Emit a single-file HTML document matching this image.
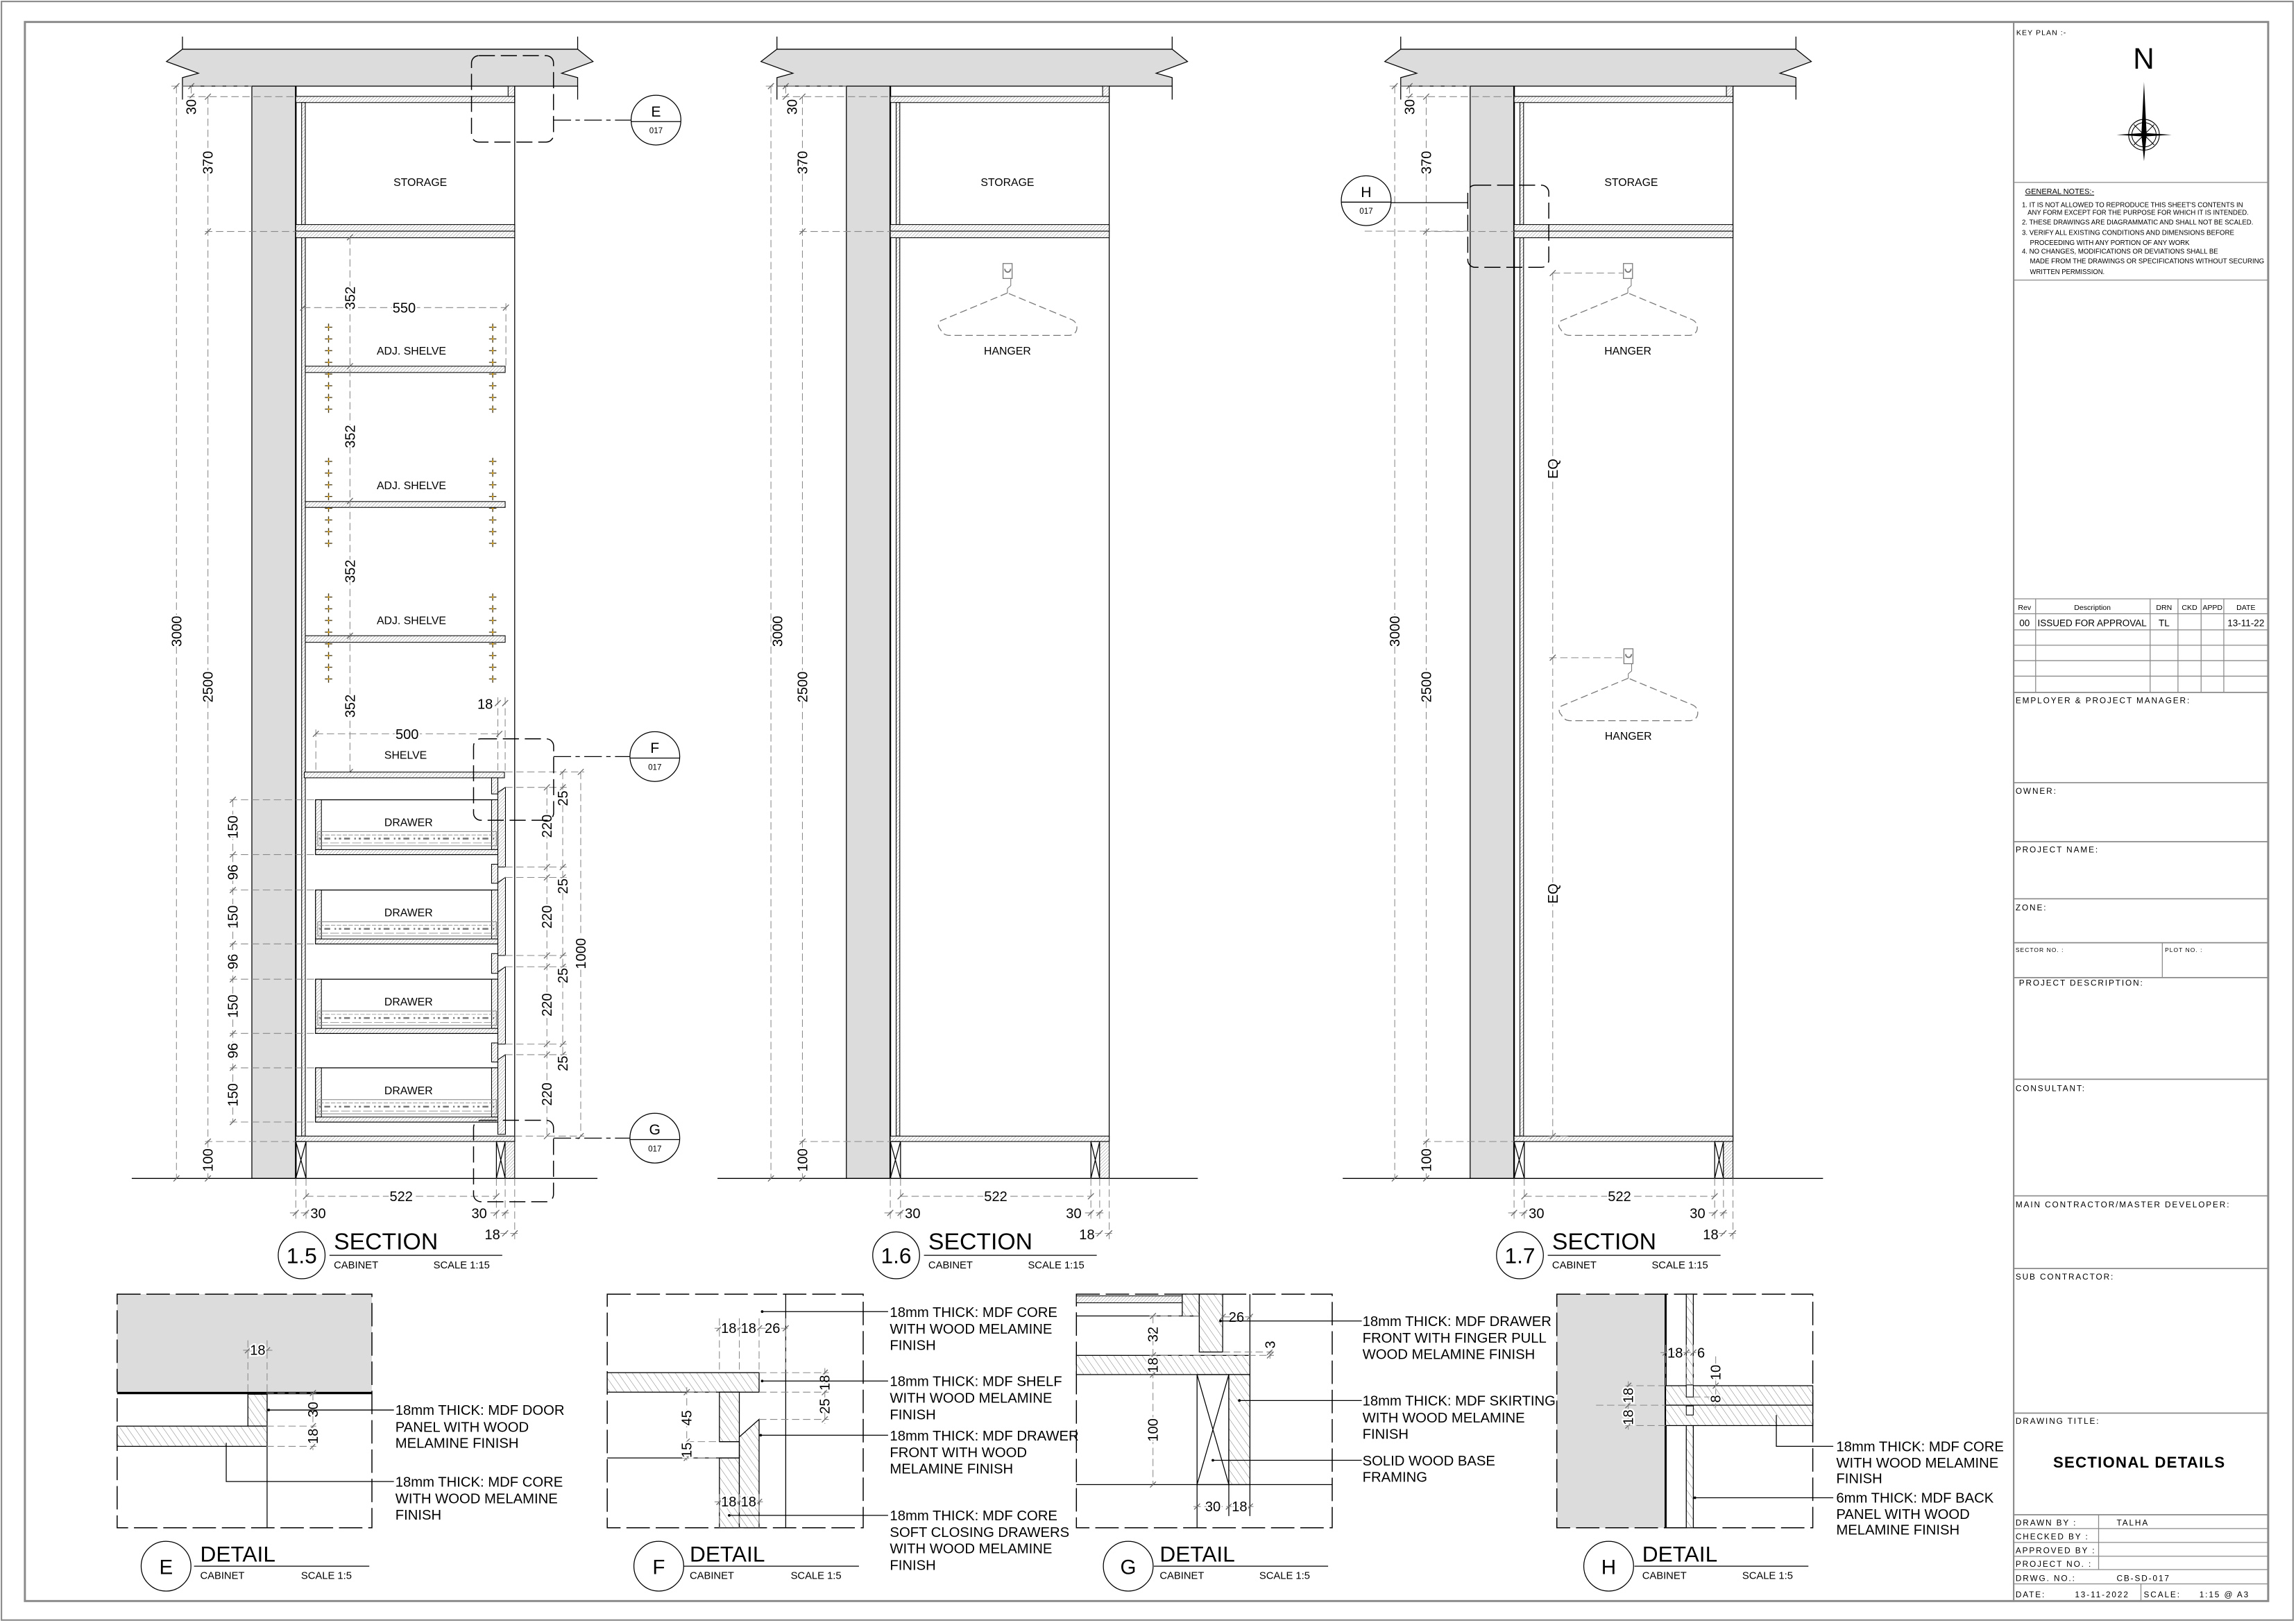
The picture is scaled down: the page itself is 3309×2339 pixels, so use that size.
<!DOCTYPE html>
<html><head><meta charset="utf-8">
<style>
html,body{margin:0;padding:0;background:#fff;}
svg{display:block;}
text{font-family:"Liberation Sans",Arial,sans-serif;fill:#000;}
.k{stroke:#000;fill:none;stroke-width:.6}
.kt{stroke:#000;fill:none;stroke-width:.9}
.d{stroke:#8a8a8a;fill:none;stroke-width:.5;stroke-dasharray:5 2.5}
.tk{stroke:#666;fill:none;stroke-width:.6}
.h{fill:url(#hat);stroke:#000;stroke-width:.5}
.hb{fill:url(#hatb);stroke:#000;stroke-width:.6}
.g{fill:#dcdcdc;stroke:#000;stroke-width:.6}
.bx{fill:none;stroke:#000;stroke-width:.7;stroke-dasharray:11 4}
.fr{fill:none;stroke:#000;stroke-width:.7;stroke-dasharray:16 4}
.dt{font-size:9.5px;paint-order:stroke;stroke:#fff;stroke-width:2.2px}
.lb{font-size:7.5px}
.nt{font-size:9.6px}
.tb{font-size:5.6px;letter-spacing:.9px}
.hg{fill:none;stroke:#777;stroke-width:.6;stroke-dasharray:5 2.5}
</style></head>
<body>
<svg width="3309" height="2339" viewBox="0 0 1568 1108" preserveAspectRatio="none" xmlns="http://www.w3.org/2000/svg">
<defs>
<pattern id="hat" patternUnits="userSpaceOnUse" width="1.6" height="1.6" patternTransform="rotate(45)">
<rect width="1.6" height="1.6" fill="#fff"/><line x1="0" y1="0" x2="0" y2="1.6" stroke="#888" stroke-width=".45"/></pattern>
<pattern id="hatb" patternUnits="userSpaceOnUse" width="4" height="4" patternTransform="rotate(-35)">
<rect width="4" height="4" fill="#fff"/><line x1="0" y1="0" x2="0" y2="4" stroke="#666" stroke-width=".4"/></pattern>
<pattern id="pl1" patternUnits="userSpaceOnUse" x="220.9" y="219.4" width="112.1" height="7.99">
<path d="M1,4H6M3.5,1.5V6.5" stroke="#3a2a00" stroke-width=".6"/><circle cx="3.5" cy="4" r=".6" fill="#e0a000"/></pattern>
<pattern id="pl2" patternUnits="userSpaceOnUse" x="220.9" y="311" width="112.1" height="7.99">
<path d="M1,4H6M3.5,1.5V6.5" stroke="#3a2a00" stroke-width=".6"/><circle cx="3.5" cy="4" r=".6" fill="#e0a000"/></pattern>
<pattern id="pl3" patternUnits="userSpaceOnUse" x="220.9" y="403.6" width="112.1" height="7.99">
<path d="M1,4H6M3.5,1.5V6.5" stroke="#3a2a00" stroke-width=".6"/><circle cx="3.5" cy="4" r=".6" fill="#e0a000"/></pattern>
</defs>
<rect x="0" y="0" width="1568" height="1108" fill="#fff"/>
<!-- borders -->
<rect x="1" y="1" width="1565" height="1105" fill="none" stroke="#8a8a8a" stroke-width="1"/>
<rect x="17" y="15" width="1532" height="1078" fill="none" stroke="#8a8a8a" stroke-width="1.4"/>

<!-- ===================== SECTION 1.5 ===================== -->
<g id="s15">
<path class="g" d="M124.6,33.6H394.5L405,42L383.6,50L394.5,53V58.8H124.6V53L135.5,50L113.7,42Z"/>
<path class="k" d="M124.6,25V33.6M124.6,58.8V68M394.5,25V33.6M394.5,58.8V68"/>
<rect class="g" x="172" y="58.8" width="30" height="745.7"/>
<line x1="202" y1="58.8" x2="202" y2="804.5" stroke="#000" stroke-width="1.1"/>
<rect class="h" x="202" y="65.8" width="149.5" height="4.2"/>
<rect class="h" x="347" y="58.8" width="4.5" height="7"/>
<line class="k" x1="351.5" y1="58.8" x2="351.5" y2="779.3"/>
<rect class="h" x="206" y="70" width="2.5" height="83.3"/>
<rect class="h" x="206" y="162.3" width="2.5" height="613.3"/>
<rect class="h" x="202" y="153.3" width="149.5" height="4.5"/>
<rect class="h" x="202" y="157.8" width="149.5" height="4.5"/>
<text x="287" y="127" class="lb" text-anchor="middle">STORAGE</text>
<rect class="h" x="202" y="775.6" width="149.5" height="3.7"/>
<path class="k" d="M202,779.3h7v25.2h-7zM202,779.3l7,25.2M209,779.3l-7,25.2M339,779.3h6v25.2h-6zM339,779.3l6,25.2M345,779.3l-6,25.2"/>
<rect class="h" x="345" y="779.3" width="6.5" height="25.2"/>
<line class="k" x1="90" y1="804.5" x2="408" y2="804.5"/>
<path class="d" d="M120.5,58.8V804.5M130.6,58.8V66M142,66V804.5M117,58.8H172M128,66H202M140,158H202M140,779.3H202M209,804.5V832M202,804.5V832M339,804.5V832M345,804.5V832M351.5,804.5V846M209,816.7H339M198,828H213M335,828H349M341,842H355"/>
<path class="tk" d="M118.5,60.8l4,-4M118.5,806.5l4,-4M128.6,60.8l4,-4M128.6,68l4,-4M140,68l4,-4M140,160l4,-4M140,781.3l4,-4M140,806.5l4,-4M207,818.7l4,-4M337,818.7l4,-4M200,830l4,-4M207,830l4,-4M337,830l4,-4M343,830l4,-4M343,844l4,-4M349.5,844l4,-4"/>
<text class="dt" text-anchor="middle" transform="translate(123.8,431) rotate(-90)">3000</text>
<text class="dt" text-anchor="middle" transform="translate(145.3,469) rotate(-90)">2500</text>
<text class="dt" text-anchor="middle" transform="translate(133.9,73) rotate(-90)">30</text>
<text class="dt" text-anchor="middle" transform="translate(145.3,111) rotate(-90)">370</text>
<text class="dt" text-anchor="middle" transform="translate(145.3,792) rotate(-90)">100</text>
<text class="dt" text-anchor="middle" x="274" y="820">522</text>
<text class="dt" x="212" y="831.5">30</text>
<text class="dt" x="322" y="831.5">30</text>
<text class="dt" x="331" y="846">18</text>
<circle cx="206" cy="857" r="16" fill="none" stroke="#000" stroke-width=".6"/>
<text x="206" y="862.5" font-size="15" text-anchor="middle">1.5</text>
<text x="228" y="853" font-size="16">SECTION</text>
<line class="k" x1="225" y1="857" x2="343" y2="857"/>
<text x="228" y="866" font-size="7">CABINET</text>
<text x="296" y="866" font-size="7">SCALE  1:15</text>

<!-- specific -->
<rect fill="url(#pl1)" x="220.9" y="219.4" width="119" height="64"/>
<rect fill="url(#pl2)" x="220.9" y="311" width="119" height="64"/>
<rect fill="url(#pl3)" x="220.9" y="403.6" width="119" height="64"/>
<rect class="h" x="208.5" y="250" width="136.5" height="4.3"/>
<rect class="h" x="208.5" y="342.4" width="136.5" height="4"/>
<rect class="h" x="208.5" y="434" width="136.5" height="4.5"/>
<text x="281" y="242" class="lb" text-anchor="middle">ADJ. SHELVE</text>
<text x="281" y="334" class="lb" text-anchor="middle">ADJ. SHELVE</text>
<text x="281" y="426" class="lb" text-anchor="middle">ADJ. SHELVE</text>
<path class="d" d="M207,210H345.5M345.5,207V250M239,162V527M340,476V527M345,476V527M215.7,501H341M215.7,498V527"/>
<path class="tk" d="M205,212l4,-4M343.5,212l4,-4M237,164l4,-4M237,252l4,-4M237,344l4,-4M237,436l4,-4M237,529l4,-4M213.7,503l4,-4M339,503l4,-4M338,482l4,-4M343,482l4,-4"/>
<text class="dt" text-anchor="middle" x="276" y="213.5">550</text>
<text class="dt" text-anchor="middle" transform="translate(242.3,203.5) rotate(-90)">352</text>
<text class="dt" text-anchor="middle" transform="translate(242.3,298) rotate(-90)">352</text>
<text class="dt" text-anchor="middle" transform="translate(242.3,390) rotate(-90)">352</text>
<text class="dt" text-anchor="middle" transform="translate(242.3,482) rotate(-90)">352</text>
<text class="dt" x="326" y="484">18</text>
<text class="dt" text-anchor="middle" x="278" y="504.5">500</text>
<text x="277" y="518" class="lb" text-anchor="middle">SHELVE</text>
<rect class="h" x="207.8" y="527.1" width="136.7" height="3.9"/>
<!-- drawers -->
<g id="dr1">
<rect class="k" x="215.5" y="546" width="124.5" height="37.4"/>
<rect class="h" x="215.5" y="546" width="4" height="34"/>
<rect class="h" x="335.7" y="546" width="4.3" height="34"/>
<rect class="h" x="215.5" y="580" width="124.5" height="3.4"/>
<rect x="217" y="567.7" width="122" height="9.7" fill="none" stroke="#888" stroke-width=".5"/>
<line x1="218" y1="570" x2="338" y2="570" stroke="#888" stroke-width=".4" stroke-dasharray="3 1"/>
<line x1="218" y1="572.5" x2="338" y2="572.5" stroke="#777" stroke-width="1.2" stroke-dasharray="1.5 2 4 3 1 2"/>
<line x1="218" y1="575.5" x2="338" y2="575.5" stroke="#888" stroke-width=".4" stroke-dasharray="6 1.5"/>
<text x="279" y="564" class="lb" text-anchor="middle">DRAWER</text>
</g>
<g transform="translate(0,61.6)">
<rect class="k" x="215.5" y="546" width="124.5" height="36.8"/>
<rect class="h" x="215.5" y="546" width="4" height="33.4"/>
<rect class="h" x="335.7" y="546" width="4.3" height="33.4"/>
<rect class="h" x="215.5" y="579.4" width="124.5" height="3.4"/>
<rect x="217" y="567.7" width="122" height="9.7" fill="none" stroke="#888" stroke-width=".5"/>
<line x1="218" y1="570" x2="338" y2="570" stroke="#888" stroke-width=".4" stroke-dasharray="3 1"/>
<line x1="218" y1="572.5" x2="338" y2="572.5" stroke="#777" stroke-width="1.2" stroke-dasharray="1.5 2 4 3 1 2"/>
<line x1="218" y1="575.5" x2="338" y2="575.5" stroke="#888" stroke-width=".4" stroke-dasharray="6 1.5"/>
<text x="279" y="564" class="lb" text-anchor="middle">DRAWER</text>
</g>
<g transform="translate(0,122.5)">
<rect class="k" x="215.5" y="546" width="124.5" height="37"/>
<rect class="h" x="215.5" y="546" width="4" height="33.6"/>
<rect class="h" x="335.7" y="546" width="4.3" height="33.6"/>
<rect class="h" x="215.5" y="579.6" width="124.5" height="3.4"/>
<rect x="217" y="567.7" width="122" height="9.7" fill="none" stroke="#888" stroke-width=".5"/>
<line x1="218" y1="570" x2="338" y2="570" stroke="#888" stroke-width=".4" stroke-dasharray="3 1"/>
<line x1="218" y1="572.5" x2="338" y2="572.5" stroke="#777" stroke-width="1.2" stroke-dasharray="1.5 2 4 3 1 2"/>
<line x1="218" y1="575.5" x2="338" y2="575.5" stroke="#888" stroke-width=".4" stroke-dasharray="6 1.5"/>
<text x="279" y="564" class="lb" text-anchor="middle">DRAWER</text>
</g>
<g transform="translate(0,183)">
<rect class="k" x="215.5" y="546" width="124.5" height="37"/>
<rect class="h" x="215.5" y="546" width="4" height="33.6"/>
<rect class="h" x="335.7" y="546" width="4.3" height="33.6"/>
<rect class="h" x="215.5" y="579.6" width="124.5" height="3.4"/>
<rect x="217" y="567.7" width="122" height="9.7" fill="none" stroke="#888" stroke-width=".5"/>
<line x1="218" y1="570" x2="338" y2="570" stroke="#888" stroke-width=".4" stroke-dasharray="3 1"/>
<line x1="218" y1="572.5" x2="338" y2="572.5" stroke="#777" stroke-width="1.2" stroke-dasharray="1.5 2 4 3 1 2"/>
<line x1="218" y1="575.5" x2="338" y2="575.5" stroke="#888" stroke-width=".4" stroke-dasharray="6 1.5"/>
<text x="279" y="564" class="lb" text-anchor="middle">DRAWER</text>
</g>
<!-- fronts -->
<path class="h" d="M340,541L345.2,537.5V591.9H340Z"/>
<path class="h" d="M340,602.5L345.2,599V652.3H340Z"/>
<path class="h" d="M340,663.5L345.2,660V712.8H340Z"/>
<path class="h" d="M340,723.5L345.2,720V774.4H340Z"/>
<rect class="h" x="335.7" y="531" width="4.3" height="11"/>
<rect class="h" x="335.7" y="590" width="4.3" height="13"/>
<rect class="h" x="335.7" y="651" width="4.3" height="13.5"/>
<rect class="h" x="335.7" y="712" width="4.3" height="13"/>
<!-- left drawer dims -->
<path class="d" d="M159,546V766M157,546H215M157,583.4H215M157,607.6H215M157,644.4H215M157,668.5H215M157,705.5H215M157,729H215M157,766H215"/>
<path class="tk" d="M157,548l4,-4M157,585.4l4,-4M157,609.6l4,-4M157,646.4l4,-4M157,670.5l4,-4M157,707.5l4,-4M157,731l4,-4M157,768l4,-4"/>
<text class="dt" text-anchor="middle" transform="translate(162.3,564.7) rotate(-90)">150</text>
<text class="dt" text-anchor="middle" transform="translate(162.3,595.5) rotate(-90)">96</text>
<text class="dt" text-anchor="middle" transform="translate(162.3,626) rotate(-90)">150</text>
<text class="dt" text-anchor="middle" transform="translate(162.3,656.5) rotate(-90)">96</text>
<text class="dt" text-anchor="middle" transform="translate(162.3,687) rotate(-90)">150</text>
<text class="dt" text-anchor="middle" transform="translate(162.3,717.3) rotate(-90)">96</text>
<text class="dt" text-anchor="middle" transform="translate(162.3,747.5) rotate(-90)">150</text>
<!-- right dims -->
<path class="d" d="M373.5,537.5V775.6M384.3,527V722M396.6,527V775.6M345,527H399M345,537.5H387M345,591.9H387M345,599H387M345,652.3H387M345,660H387M345,712.8H387M345,720H387M351.5,775.6H399"/>
<path class="tk" d="M371.5,539.5l4,-4M371.5,593.9l4,-4M371.5,601l4,-4M371.5,654.3l4,-4M371.5,662l4,-4M371.5,714.8l4,-4M371.5,722l4,-4M371.5,777.6l4,-4M382.3,529l4,-4M382.3,539.5l4,-4M382.3,593.9l4,-4M382.3,601l4,-4M382.3,654.3l4,-4M382.3,662l4,-4M382.3,714.8l4,-4M382.3,722l4,-4M394.6,529l4,-4M394.6,777.6l4,-4"/>
<text class="dt" text-anchor="middle" transform="translate(376.8,564) rotate(-90)">220</text>
<text class="dt" text-anchor="middle" transform="translate(376.8,626) rotate(-90)">220</text>
<text class="dt" text-anchor="middle" transform="translate(376.8,686) rotate(-90)">220</text>
<text class="dt" text-anchor="middle" transform="translate(376.8,747) rotate(-90)">220</text>
<text class="dt" text-anchor="middle" transform="translate(387.6,545) rotate(-90)">25</text>
<text class="dt" text-anchor="middle" transform="translate(387.6,605) rotate(-90)">25</text>
<text class="dt" text-anchor="middle" transform="translate(387.6,666) rotate(-90)">25</text>
<text class="dt" text-anchor="middle" transform="translate(387.6,726) rotate(-90)">25</text>
<text class="dt" text-anchor="middle" transform="translate(399.9,651) rotate(-90)">1000</text>
<!-- detail boxes/bubbles -->
<rect class="bx" x="322" y="38" width="56" height="59" rx="5"/>
<path d="M378,82H431" stroke="#000" stroke-width=".6" stroke-dasharray="12 3 3 3"/>
<circle cx="448" cy="82" r="17" fill="#fff" stroke="#000" stroke-width=".6"/>
<line class="k" x1="431" y1="83" x2="465" y2="83"/>
<text x="448" y="79.5" font-size="10" text-anchor="middle">E</text>
<text x="448" y="91" font-size="5.5" text-anchor="middle">017</text>
<rect class="bx" x="323.4" y="504.4" width="54.7" height="55.6" rx="5"/>
<path d="M378,516.5H430" stroke="#000" stroke-width=".6" stroke-dasharray="12 3 3 3"/>
<circle cx="447.2" cy="516.5" r="17" fill="#fff" stroke="#000" stroke-width=".6"/>
<line class="k" x1="430.2" y1="517.5" x2="464.2" y2="517.5"/>
<text x="447.2" y="514" font-size="10" text-anchor="middle">F</text>
<text x="447.2" y="525.5" font-size="5.5" text-anchor="middle">017</text>
<rect class="bx" x="323.4" y="764.8" width="54.6" height="55.6" rx="5"/>
<path d="M378,777H430" stroke="#000" stroke-width=".6" stroke-dasharray="12 3 3 3"/>
<circle cx="447.2" cy="777" r="17" fill="#fff" stroke="#000" stroke-width=".6"/>
<line class="k" x1="430.2" y1="778" x2="464.2" y2="778"/>
<text x="447.2" y="774.5" font-size="10" text-anchor="middle">G</text>
<text x="447.2" y="786" font-size="5.5" text-anchor="middle">017</text>
</g>

<!-- ===================== SECTION 1.6 ===================== -->
<g transform="translate(406,0)">
<path class="g" d="M124.6,33.6H394.5L405,42L383.6,50L394.5,53V58.8H124.6V53L135.5,50L113.7,42Z"/>
<path class="k" d="M124.6,25V33.6M124.6,58.8V68M394.5,25V33.6M394.5,58.8V68"/>
<rect class="g" x="172" y="58.8" width="30" height="745.7"/>
<line x1="202" y1="58.8" x2="202" y2="804.5" stroke="#000" stroke-width="1.1"/>
<rect class="h" x="202" y="65.8" width="149.5" height="4.2"/>
<rect class="h" x="347" y="58.8" width="4.5" height="7"/>
<line class="k" x1="351.5" y1="58.8" x2="351.5" y2="779.3"/>
<rect class="h" x="206" y="70" width="2.5" height="83.3"/>
<rect class="h" x="206" y="162.3" width="2.5" height="613.3"/>
<rect class="h" x="202" y="153.3" width="149.5" height="4.5"/>
<rect class="h" x="202" y="157.8" width="149.5" height="4.5"/>
<text x="282" y="127" class="lb" text-anchor="middle">STORAGE</text>
<rect class="h" x="202" y="775.6" width="149.5" height="3.7"/>
<path class="k" d="M202,779.3h7v25.2h-7zM202,779.3l7,25.2M209,779.3l-7,25.2M339,779.3h6v25.2h-6zM339,779.3l6,25.2M345,779.3l-6,25.2"/>
<rect class="h" x="345" y="779.3" width="6.5" height="25.2"/>
<line class="k" x1="84" y1="804.5" x2="412" y2="804.5"/>
<path class="d" d="M120.5,58.8V804.5M130.6,58.8V66M142,66V804.5M117,58.8H172M128,66H202M140,158H202M140,779.3H202M209,804.5V832M202,804.5V832M339,804.5V832M345,804.5V832M351.5,804.5V846M209,816.7H339M198,828H213M335,828H349M341,842H355"/>
<path class="tk" d="M118.5,60.8l4,-4M118.5,806.5l4,-4M128.6,60.8l4,-4M128.6,68l4,-4M140,68l4,-4M140,160l4,-4M140,781.3l4,-4M140,806.5l4,-4M207,818.7l4,-4M337,818.7l4,-4M200,830l4,-4M207,830l4,-4M337,830l4,-4M343,830l4,-4M343,844l4,-4M349.5,844l4,-4"/>
<text class="dt" text-anchor="middle" transform="translate(128.3,431) rotate(-90)">3000</text>
<text class="dt" text-anchor="middle" transform="translate(145.3,469) rotate(-90)">2500</text>
<text class="dt" text-anchor="middle" transform="translate(138.3,73) rotate(-90)">30</text>
<text class="dt" text-anchor="middle" transform="translate(145.3,111) rotate(-90)">370</text>
<text class="dt" text-anchor="middle" transform="translate(145.3,792) rotate(-90)">100</text>
<text class="dt" text-anchor="middle" x="274" y="820">522</text>
<text class="dt" x="212" y="831.5">30</text>
<text class="dt" x="322" y="831.5">30</text>
<text class="dt" x="331" y="846">18</text>
<circle cx="206" cy="857" r="16" fill="none" stroke="#000" stroke-width=".6"/>
<text x="206" y="862.5" font-size="15" text-anchor="middle">1.6</text>
<text x="228" y="853" font-size="16">SECTION</text>
<line class="k" x1="225" y1="857" x2="343" y2="857"/>
<text x="228" y="866" font-size="7">CABINET</text>
<text x="296" y="866" font-size="7">SCALE  1:15</text>
<g transform="translate(282,200)">
<rect x="-3" y="-20.1" width="6.2" height="10.2" fill="none" stroke="#777" stroke-width=".6"/>
<path d="M-1.8,-16.5a2,2.3 0 0 0 4,0" fill="none" stroke="#777" stroke-width=".9"/>
<path d="M2.3,-10V-5L0,-3V0" fill="none" stroke="#777" stroke-width=".5"/>
<path class="hg" d="M0,0L-45.7,19Q-48.7,22 -45.7,25Q-43.7,29 -39.7,29H42.3Q48.3,28 47.3,22Q46.3,19 43.3,18Z"/>
<text x="0" y="42" class="lb" text-anchor="middle">HANGER</text>
</g>
</g>

<!-- ===================== SECTION 1.7 ===================== -->
<g transform="translate(832,0)">
<path class="g" d="M124.6,33.6H394.5L405,42L383.6,50L394.5,53V58.8H124.6V53L135.5,50L113.7,42Z"/>
<path class="k" d="M124.6,25V33.6M124.6,58.8V68M394.5,25V33.6M394.5,58.8V68"/>
<rect class="g" x="172" y="58.8" width="30" height="745.7"/>
<line x1="202" y1="58.8" x2="202" y2="804.5" stroke="#000" stroke-width="1.1"/>
<rect class="h" x="202" y="65.8" width="149.5" height="4.2"/>
<rect class="h" x="347" y="58.8" width="4.5" height="7"/>
<line class="k" x1="351.5" y1="58.8" x2="351.5" y2="779.3"/>
<rect class="h" x="206" y="70" width="2.5" height="83.3"/>
<rect class="h" x="206" y="162.3" width="2.5" height="613.3"/>
<rect class="h" x="202" y="153.3" width="149.5" height="4.5"/>
<rect class="h" x="202" y="157.8" width="149.5" height="4.5"/>
<text x="282" y="127" class="lb" text-anchor="middle">STORAGE</text>
<rect class="h" x="202" y="775.6" width="149.5" height="3.7"/>
<path class="k" d="M202,779.3h7v25.2h-7zM202,779.3l7,25.2M209,779.3l-7,25.2M339,779.3h6v25.2h-6zM339,779.3l6,25.2M345,779.3l-6,25.2"/>
<rect class="h" x="345" y="779.3" width="6.5" height="25.2"/>
<line class="k" x1="85" y1="804.5" x2="413" y2="804.5"/>
<path class="d" d="M120.5,58.8V804.5M130.6,58.8V66M142,66V804.5M117,58.8H172M128,66H202M140,158H202M140,779.3H202M209,804.5V832M202,804.5V832M339,804.5V832M345,804.5V832M351.5,804.5V846M209,816.7H339M198,828H213M335,828H349M341,842H355"/>
<path class="tk" d="M118.5,60.8l4,-4M118.5,806.5l4,-4M128.6,60.8l4,-4M128.6,68l4,-4M140,68l4,-4M140,160l4,-4M140,781.3l4,-4M140,806.5l4,-4M207,818.7l4,-4M337,818.7l4,-4M200,830l4,-4M207,830l4,-4M337,830l4,-4M343,830l4,-4M343,844l4,-4M349.5,844l4,-4"/>
<text class="dt" text-anchor="middle" transform="translate(123.8,431) rotate(-90)">3000</text>
<text class="dt" text-anchor="middle" transform="translate(145.3,469) rotate(-90)">2500</text>
<text class="dt" text-anchor="middle" transform="translate(133.9,73) rotate(-90)">30</text>
<text class="dt" text-anchor="middle" transform="translate(145.3,111) rotate(-90)">370</text>
<text class="dt" text-anchor="middle" transform="translate(145.3,792) rotate(-90)">100</text>
<text class="dt" text-anchor="middle" x="274" y="820">522</text>
<text class="dt" x="212" y="831.5">30</text>
<text class="dt" x="322" y="831.5">30</text>
<text class="dt" x="331" y="846">18</text>
<circle cx="206" cy="857" r="16" fill="none" stroke="#000" stroke-width=".6"/>
<text x="206" y="862.5" font-size="15" text-anchor="middle">1.7</text>
<text x="228" y="853" font-size="16">SECTION</text>
<line class="k" x1="225" y1="857" x2="343" y2="857"/>
<text x="228" y="866" font-size="7">CABINET</text>
<text x="296" y="866" font-size="7">SCALE  1:15</text>
<g transform="translate(279.7,200)">
<rect x="-3" y="-20.1" width="6.2" height="10.2" fill="none" stroke="#777" stroke-width=".6"/>
<path d="M-1.8,-16.5a2,2.3 0 0 0 4,0" fill="none" stroke="#777" stroke-width=".9"/>
<path d="M2.3,-10V-5L0,-3V0" fill="none" stroke="#777" stroke-width=".5"/>
<path class="hg" d="M0,0L-45.7,19Q-48.7,22 -45.7,25Q-43.7,29 -39.7,29H42.3Q48.3,28 47.3,22Q46.3,19 43.3,18Z"/>
<text x="0" y="42" class="lb" text-anchor="middle">HANGER</text>
</g>
<g transform="translate(280,463)">
<rect x="-3" y="-20.1" width="6.2" height="10.2" fill="none" stroke="#777" stroke-width=".6"/>
<path d="M-1.8,-16.5a2,2.3 0 0 0 4,0" fill="none" stroke="#777" stroke-width=".9"/>
<path d="M2.3,-10V-5L0,-3V0" fill="none" stroke="#777" stroke-width=".5"/>
<path class="hg" d="M0,0L-45.7,19Q-48.7,22 -45.7,25Q-43.7,29 -39.7,29H42.3Q48.3,28 47.3,22Q46.3,19 43.3,18Z"/>
<text x="0" y="42" class="lb" text-anchor="middle">HANGER</text>
</g>
<path class="d" d="M228.4,186.4V775.6M228.4,186.4H276.7M226,449H277M226,775.6H240"/>
<path class="tk" d="M226.4,188.4l4,-4M226.4,451l4,-4M226.4,777.6l4,-4"/>
<text class="dt" text-anchor="middle" transform="translate(231.7,320) rotate(-90)">EQ</text>
<text class="dt" text-anchor="middle" transform="translate(231.7,610) rotate(-90)">EQ</text>
<rect class="bx" x="170.4" y="126.4" width="55.3" height="56.1" rx="5"/>
<path d="M118,138.3H170.4" stroke="#000" stroke-width=".6"/>
<path d="M100,157.8H170" stroke="#888" stroke-width=".5" stroke-dasharray="5 2.5"/>
<circle cx="101" cy="137" r="17" fill="#fff" stroke="#000" stroke-width=".6"/>
<line class="k" x1="84" y1="138" x2="118" y2="138"/>
<text x="101" y="134.5" font-size="10" text-anchor="middle">H</text>
<text x="101" y="146" font-size="5.5" text-anchor="middle">017</text>
</g>

<!-- ===================== DETAIL E ===================== -->
<rect x="80" y="883.5" width="174" height="67.5" fill="#dcdcdc"/>
<rect class="fr" x="80" y="883.5" width="174" height="159.5"/>
<line x1="80" y1="951" x2="254" y2="951" stroke="#000" stroke-width="1.6"/>
<line class="k" x1="182.4" y1="951" x2="182.4" y2="1043"/>
<rect class="hb" x="169.3" y="951.8" width="13.1" height="21.8"/>
<rect class="hb" x="80" y="973.6" width="102.4" height="13.8"/>
<path class="d" d="M169.3,915V951M182.4,915V951M182,951H216M182,973.6H216M182,987.4H216M213.7,951V990M166,921.8H186"/>
<path class="tk" d="M167.3,923.8l4,-4M180.4,923.8l4,-4M211.7,953l4,-4M211.7,975.6l4,-4M211.7,989.4l4,-4"/>
<text class="dt" text-anchor="middle" x="176" y="925">18</text>
<text class="dt" text-anchor="middle" transform="translate(217,962.3) rotate(-90)">30</text>
<text class="dt" text-anchor="middle" transform="translate(217,980.5) rotate(-90)">18</text>
<path class="k" d="M182.4,962.6H269M154.5,985V1011.4H269"/>
<circle cx="183.5" cy="962.6" r=".9"/>
<text class="nt" x="270" y="966">18mm THICK: MDF DOOR</text>
<text class="nt" x="270" y="977.4">PANEL WITH WOOD</text>
<text class="nt" x="270" y="988.5">MELAMINE FINISH</text>
<text class="nt" x="270" y="1014.8">18mm THICK: MDF CORE</text>
<text class="nt" x="270" y="1026.4">WITH WOOD MELAMINE</text>
<text class="nt" x="270" y="1037.4">FINISH</text>
<circle cx="113.4" cy="1069.2" r="17" fill="none" stroke="#000" stroke-width=".6"/>
<text x="113.4" y="1074.5" font-size="14" text-anchor="middle">E</text>
<text x="136.7" y="1066" font-size="15">DETAIL</text>
<line class="k" x1="132.5" y1="1069.2" x2="252.2" y2="1069.2"/>
<text x="136.7" y="1078" font-size="7">CABINET</text>
<text x="205.6" y="1078" font-size="7">SCALE  1:5</text>

<!-- ===================== DETAIL F ===================== -->
<rect class="fr" x="414.7" y="883.5" width="174.8" height="159.5"/>
<line class="k" x1="536.6" y1="883.5" x2="536.6" y2="1043"/>
<rect class="hb" x="414.7" y="937.1" width="103.7" height="13.3"/>
<rect class="hb" x="491.3" y="950.4" width="13.6" height="33.8"/>
<rect class="hb" x="491.3" y="995.3" width="13.6" height="47.7"/>
<path class="hb" d="M504.9,981L518.4,969V1043H504.9Z"/>
<path class="k" d="M414.7,995.3H504.9M491.3,984.2H504.9M504.9,984.2V995.3"/>
<path class="d" d="M491.3,900V937M504.9,900V937M518.4,900V937M536.6,900V937M488,906.8H540M518.4,937.1H566M518.4,950.4H566M518.4,969H566M563.3,934V972M469,950.4H491M469,984.2H491M469,995.3H491M469,947V998M491.3,1020V1043M504.9,1020V1043M518.4,1020V1043M488,1025.3H521"/>
<path class="tk" d="M489.3,908.8l4,-4M502.9,908.8l4,-4M516.4,908.8l4,-4M534.6,908.8l4,-4M561.3,939.1l4,-4M561.3,952.4l4,-4M561.3,971l4,-4M467,952.4l4,-4M467,986.2l4,-4M467,997.3l4,-4M489.3,1027.3l4,-4M502.9,1027.3l4,-4M516.4,1027.3l4,-4"/>
<text class="dt" text-anchor="middle" x="497.7" y="910">18</text>
<text class="dt" text-anchor="middle" x="511.2" y="910">18</text>
<text class="dt" text-anchor="middle" x="527.5" y="910">26</text>
<text class="dt" text-anchor="middle" transform="translate(566.6,944) rotate(-90)">18</text>
<text class="dt" text-anchor="middle" transform="translate(566.6,960) rotate(-90)">25</text>
<text class="dt" text-anchor="middle" transform="translate(472.3,968) rotate(-90)">45</text>
<text class="dt" text-anchor="middle" transform="translate(472.3,990) rotate(-90)">15</text>
<text class="dt" text-anchor="middle" x="497.7" y="1028.5">18</text>
<text class="dt" text-anchor="middle" x="511.2" y="1028.5">18</text>
<path class="k" d="M520.5,895.4H606.5M520.5,942.8H606.5M519.5,979.8H606.5M498,1034.5H606.5"/>
<circle cx="520.5" cy="895.4" r=".9"/><circle cx="520.5" cy="942.8" r=".9"/><circle cx="519.5" cy="979.8" r=".9"/><circle cx="498" cy="1034.5" r=".9"/>
<text class="nt" x="607.7" y="899">18mm THICK: MDF CORE</text>
<text class="nt" x="607.7" y="910.4">WITH WOOD MELAMINE</text>
<text class="nt" x="607.7" y="921.6">FINISH</text>
<text class="nt" x="607.7" y="946.3">18mm THICK: MDF SHELF</text>
<text class="nt" x="607.7" y="957.7">WITH WOOD MELAMINE</text>
<text class="nt" x="607.7" y="969">FINISH</text>
<text class="nt" x="607.7" y="983.3">18mm THICK: MDF DRAWER</text>
<text class="nt" x="607.7" y="994.8">FRONT WITH WOOD</text>
<text class="nt" x="607.7" y="1005.9">MELAMINE FINISH</text>
<text class="nt" x="607.7" y="1038">18mm THICK: MDF CORE</text>
<text class="nt" x="607.7" y="1049.3">SOFT CLOSING DRAWERS</text>
<text class="nt" x="607.7" y="1060.4">WITH WOOD MELAMINE</text>
<text class="nt" x="607.7" y="1071.8">FINISH</text>
<circle cx="449.9" cy="1069.2" r="17" fill="none" stroke="#000" stroke-width=".6"/>
<text x="449.9" y="1074.5" font-size="14" text-anchor="middle">F</text>
<text x="471" y="1066" font-size="15">DETAIL</text>
<line class="k" x1="466.8" y1="1069.2" x2="586.6" y2="1069.2"/>
<text x="471" y="1078" font-size="7">CABINET</text>
<text x="540" y="1078" font-size="7">SCALE  1:5</text>

<!-- ===================== DETAIL G ===================== -->
<rect class="fr" x="735.1" y="883.5" width="174.7" height="159.5"/>
<line class="k" x1="853.6" y1="883.5" x2="853.6" y2="1013.5"/>
<rect class="h" x="735.1" y="884.7" width="82.4" height="4.7"/>
<line class="k" x1="735.1" y1="898.4" x2="819" y2="898.4"/>
<rect class="hb" x="807.4" y="883.5" width="11.6" height="14.9"/>
<rect class="hb" x="819" y="883.5" width="16" height="39.5"/>
<rect class="hb" x="735.1" y="925.3" width="118.5" height="13.1"/>
<path class="k" d="M817.5,938.4H839.2V1013.5H817.5ZM817.5,938.4L839.2,1013.5M839.2,938.4L817.5,1013.5"/>
<rect class="hb" x="839.2" y="938.4" width="14.4" height="75.1"/>
<line class="k" x1="735.1" y1="1013.5" x2="909.8" y2="1013.5"/>
<path class="k" d="M817.5,1013.5V1043M839.2,1013.5V1035M853.6,1013.5V1035" stroke-width=".35"/>
<path class="d" d="M787.4,898.4V1013.5M785,898.4H819M785,925.3H870M835,923H870M867.3,915V930M835,899H856M815,1028.5H856"/>
<path class="tk" d="M785.4,900.4l4,-4M785.4,927.3l4,-4M785.4,940.4l4,-4M785.4,1015.5l4,-4M865.3,925l4,-4M865.3,927.3l4,-4M833,901l4,-4M851.6,901l4,-4M815.5,1030.5l4,-4M837.2,1030.5l4,-4M851.6,1030.5l4,-4"/>
<text class="dt" text-anchor="middle" x="844.4" y="902.3">26</text>
<text class="dt" text-anchor="middle" transform="translate(790.7,911) rotate(-90)">32</text>
<text class="dt" text-anchor="middle" transform="translate(870.6,918) rotate(-90)">3</text>
<text class="dt" text-anchor="middle" transform="translate(790.7,932) rotate(-90)">18</text>
<text class="dt" text-anchor="middle" transform="translate(790.7,976.3) rotate(-90)">100</text>
<text class="dt" text-anchor="middle" x="828.3" y="1031.8">30</text>
<text class="dt" text-anchor="middle" x="846.5" y="1031.8">18</text>
<path class="k" d="M833.5,901.8H930M846.4,956.1H930M828.3,996.9H930"/>
<circle cx="833.5" cy="901.8" r=".9"/><circle cx="846.4" cy="956.1" r=".9"/><circle cx="828.3" cy="996.9" r=".9"/>
<text class="nt" x="930.5" y="905.3">18mm THICK: MDF DRAWER</text>
<text class="nt" x="930.5" y="916.6">FRONT WITH FINGER PULL</text>
<text class="nt" x="930.5" y="927.7">WOOD MELAMINE FINISH</text>
<text class="nt" x="930.5" y="959.6">18mm THICK: MDF SKIRTING</text>
<text class="nt" x="930.5" y="971.1">WITH WOOD MELAMINE</text>
<text class="nt" x="930.5" y="982.2">FINISH</text>
<text class="nt" x="930.5" y="1000.4">SOLID WOOD BASE</text>
<text class="nt" x="930.5" y="1011.5">FRAMING</text>
<circle cx="770.5" cy="1069.2" r="17" fill="none" stroke="#000" stroke-width=".6"/>
<text x="770.5" y="1074.5" font-size="14" text-anchor="middle">G</text>
<text x="792" y="1066" font-size="15">DETAIL</text>
<line class="k" x1="788" y1="1069.2" x2="907" y2="1069.2"/>
<text x="792" y="1078" font-size="7">CABINET</text>
<text x="860" y="1078" font-size="7">SCALE  1:5</text>

<!-- ===================== DETAIL H ===================== -->
<rect x="1063.2" y="883.5" width="74.3" height="159.5" fill="#dcdcdc"/>
<rect class="fr" x="1063.2" y="883.5" width="174.8" height="159.5"/>
<line x1="1137.5" y1="883.5" x2="1137.5" y2="1043" stroke="#000" stroke-width="1.4"/>
<rect class="hb" x="1151.6" y="883.5" width="4.8" height="70.2"/>
<rect class="hb" x="1151.6" y="966" width="4.8" height="77"/>
<rect class="hb" x="1137.5" y="946" width="100.5" height="13.3"/>
<rect class="hb" x="1137.5" y="959.3" width="100.5" height="13.9"/>
<rect x="1151.6" y="945.5" width="4.8" height="8.2" fill="#fff" stroke="#000" stroke-width=".5"/>
<rect x="1151.6" y="959.8" width="4.8" height="6.2" fill="#fff" stroke="#000" stroke-width=".5"/>
<path class="d" d="M1110,946H1137.5M1090,959.3H1137.5M1110,973.2H1137.5M1112,943V976M1137.5,918V946M1151.6,918V946M1156.4,918V946M1134,923.4H1160M1156.4,953.7H1175M1171.7,926V962"/>
<path class="tk" d="M1110,948l4,-4M1110,961.3l4,-4M1110,975.2l4,-4M1135.5,925.4l4,-4M1149.6,925.4l4,-4M1154.4,925.4l4,-4M1169.7,948l4,-4M1169.7,955.7l4,-4"/>
<text class="dt" text-anchor="middle" x="1144" y="926.7">18</text>
<text class="dt" text-anchor="middle" x="1161.7" y="926.7">6</text>
<text class="dt" text-anchor="middle" transform="translate(1175,937) rotate(-90)">10</text>
<text class="dt" text-anchor="middle" transform="translate(1175,955) rotate(-90)">8</text>
<text class="dt" text-anchor="middle" transform="translate(1115.3,952.6) rotate(-90)">18</text>
<text class="dt" text-anchor="middle" transform="translate(1115.3,967.6) rotate(-90)">18</text>
<path class="k" d="M1213.1,966V987.4H1252M1156.4,1022.5H1252"/>
<circle cx="1157.5" cy="1022.5" r=".9"/>
<text class="nt" x="1254" y="990.8">18mm THICK: MDF CORE</text>
<text class="nt" x="1254" y="1001.8">WITH WOOD MELAMINE</text>
<text class="nt" x="1254" y="1012.6">FINISH</text>
<text class="nt" x="1254" y="1025.9">6mm THICK: MDF BACK</text>
<text class="nt" x="1254" y="1036.9">PANEL WITH WOOD</text>
<text class="nt" x="1254" y="1047.7">MELAMINE FINISH</text>
<circle cx="1098.6" cy="1069.2" r="17" fill="none" stroke="#000" stroke-width=".6"/>
<text x="1098.6" y="1074.5" font-size="14" text-anchor="middle">H</text>
<text x="1121.5" y="1066" font-size="15">DETAIL</text>
<line class="k" x1="1116.2" y1="1069.2" x2="1235" y2="1069.2"/>
<text x="1121.5" y="1078" font-size="7">CABINET</text>
<text x="1189.8" y="1078" font-size="7">SCALE  1:5</text>

<!-- ===================== TITLE BLOCK ===================== -->
<g stroke="#8a8a8a" stroke-width="1" fill="none">
<line x1="1375.2" y1="15" x2="1375.2" y2="1093"/>
<line x1="1375.2" y1="124.5" x2="1549" y2="124.5" stroke-width=".6"/>
<line x1="1375.2" y1="191.2" x2="1549" y2="191.2" stroke-width=".6"/>
<path stroke-width=".6" d="M1375.2,408.8H1549M1375.2,419H1549M1375.2,430H1549M1375.2,440.5H1549M1375.2,451H1549M1375.2,461.6H1549M1390.2,408.8V472.7M1468.4,408.8V472.7M1487.4,408.8V472.7M1503.2,408.8V472.7M1518.7,408.8V472.7"/>
<path d="M1375.2,472.7H1549M1375.2,534.3H1549M1375.2,574.6H1549M1375.2,613.6H1549M1375.2,643.6H1549M1375.2,667.4H1549M1375.2,736.8H1549M1375.2,816.4H1549M1375.2,866H1549M1375.2,964.7H1549M1375.2,1034.1H1549" stroke-width=".8"/>
<path stroke-width=".6" d="M1476.7,643.6V667.4M1375.2,1043.5H1549M1375.2,1053H1549M1375.2,1062.4H1549M1375.2,1071.5H1549M1375.2,1081.3H1549M1433.2,1034.1V1071.5M1462.1,1081.3V1093"/>
</g>
<text x="1377" y="24" font-size="5" letter-spacing=".5">KEY PLAN :-</text>
<text x="1464" y="47" font-size="20" text-anchor="middle">N</text>
<g transform="translate(1464.2,92)">
<circle r="10.5" fill="none" stroke="#000" stroke-width=".5"/>
<circle r="8.3" fill="none" stroke="#000" stroke-width=".5"/>
<path d="M-7,-7L7,7M-7,7L7,-7" stroke="#000" stroke-width=".5"/>
<path d="M0,-36L1.8,0L0,18L-1.8,0Z" fill="#000"/>
<path d="M-18.7,0L0,-1.2L18.8,0L0,1.2Z" fill="#000"/>
<circle r="2" fill="#000"/>
</g>
<text x="1383" y="132.5" font-size="5.2" text-decoration="underline">GENERAL NOTES:-</text>
<g font-size="4.9">
<text x="1380.8" y="141.3" textLength="151" lengthAdjust="spacingAndGlyphs">1. IT IS NOT ALLOWED TO REPRODUCE THIS SHEET'S  CONTENTS IN</text>
<text x="1384.7" y="146.7" textLength="151" lengthAdjust="spacingAndGlyphs">ANY FORM EXCEPT FOR THE PURPOSE  FOR WHICH IT IS INTENDED.</text>
<text x="1380.8" y="153.3" textLength="158" lengthAdjust="spacingAndGlyphs">2.  THESE DRAWINGS ARE DIAGRAMMATIC AND SHALL NOT BE SCALED.</text>
<text x="1380.8" y="160.3" textLength="145" lengthAdjust="spacingAndGlyphs">3. VERIFY ALL EXISTING CONDITIONS AND DIMENSIONS  BEFORE</text>
<text x="1386.3" y="167.2" textLength="109" lengthAdjust="spacingAndGlyphs">PROCEEDING WITH ANY PORTION OF ANY WORK</text>
<text x="1380.8" y="173.2" textLength="134" lengthAdjust="spacingAndGlyphs">4. NO CHANGES, MODIFICATIONS OR DEVIATIONS SHALL BE</text>
<text x="1386.3" y="179.8" textLength="160" lengthAdjust="spacingAndGlyphs">MADE FROM THE DRAWINGS OR SPECIFICATIONS WITHOUT  SECURING</text>
<text x="1386.3" y="187.1" textLength="51" lengthAdjust="spacingAndGlyphs">WRITTEN PERMISSION.</text>
</g>
<g font-size="5">
<text x="1382.6" y="416.5" text-anchor="middle">Rev</text>
<text x="1429" y="416.5" text-anchor="middle">Description</text>
<text x="1477.9" y="416.5" text-anchor="middle">DRN</text>
<text x="1495.3" y="416.5" text-anchor="middle">CKD</text>
<text x="1511" y="416.5" text-anchor="middle">APPD</text>
<text x="1533.8" y="416.5" text-anchor="middle">DATE</text>
</g>
<g font-size="6.4">
<text x="1382.6" y="427.5" text-anchor="middle">00</text>
<text x="1391.5" y="427.5">ISSUED FOR APPROVAL</text>
<text x="1477.9" y="427.5" text-anchor="middle">TL</text>
<text x="1533.8" y="427.5" text-anchor="middle">13-11-22</text>
</g>
<g class="tb">
<text x="1376.5" y="480">EMPLOYER &amp; PROJECT MANAGER:</text>
<text x="1376.5" y="542">OWNER:</text>
<text x="1376.5" y="582">PROJECT NAME:</text>
<text x="1376.5" y="621.5">ZONE:</text>
<text x="1378.8" y="673">PROJECT DESCRIPTION:</text>
<text x="1376.5" y="745">CONSULTANT:</text>
<text x="1376.5" y="824.3">MAIN CONTRACTOR/MASTER DEVELOPER:</text>
<text x="1376.5" y="873.5">SUB CONTRACTOR:</text>
<text x="1376.5" y="972">DRAWING TITLE:</text>
</g>
<text x="1376.5" y="650" font-size="4" letter-spacing=".5">SECTOR NO. :</text>
<text x="1478.5" y="650" font-size="4" letter-spacing=".5">PLOT NO. :</text>
<text x="1461" y="1002" font-size="10.5" font-weight="bold" text-anchor="middle" letter-spacing=".6">SECTIONAL DETAILS</text>
<g class="tb" font-size="5.4">
<text x="1376.5" y="1041.5">DRAWN BY         :</text>
<text x="1376.5" y="1051">CHECKED BY     :</text>
<text x="1376.5" y="1060.5">APPROVED BY :</text>
<text x="1376.5" y="1069.7">PROJECT NO.    :</text>
<text x="1376.5" y="1079.3">DRWG. NO.:</text>
<text x="1376.5" y="1090.5">DATE:</text>
<text x="1445.5" y="1041.5">TALHA</text>
<text x="1445.5" y="1079.3">CB-SD-017</text>
<text x="1417" y="1090.5">13-11-2022</text>
<text x="1464" y="1090.5">SCALE:</text>
<text x="1502" y="1090.5">1:15 @ A3</text>
</g>
</svg>
</body></html>
